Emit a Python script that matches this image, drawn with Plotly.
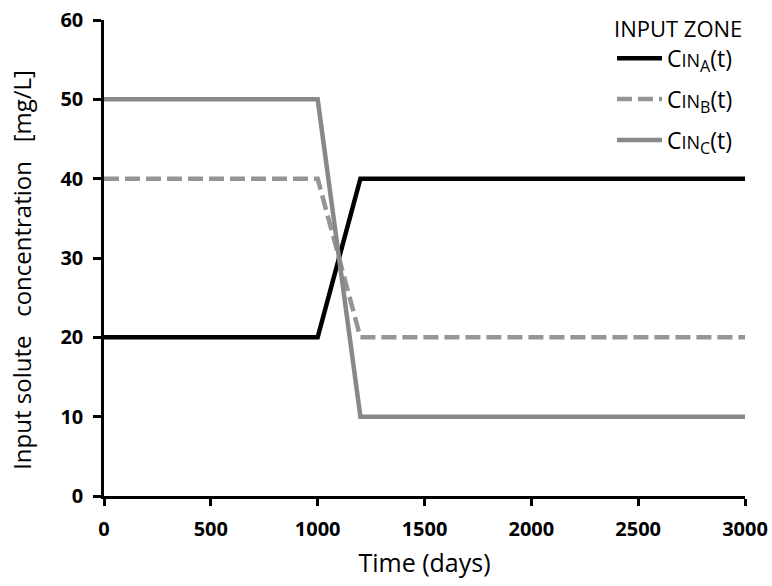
import plotly.graph_objects as go

time_days = [0, 1000, 1200, 3000]
cin_a = [20, 20, 40, 40]
cin_b = [40, 40, 20, 20]
cin_c = [50, 50, 10, 10]

x_ticks = [0, 500, 1000, 1500, 2000, 2500, 3000]
y_ticks = [0, 10, 20, 30, 40, 50, 60]

FONT = "Open Sans"
SUB = "<span style='font-size:18px'>IN</span>"

fig = go.Figure()
fig.add_trace(go.Scatter(x=time_days, y=cin_a, mode="lines", legendgroup="a",
                         line=dict(color="#000000", width=4.5),
                         name="C" + SUB + "<sub>A</sub>(t)"))
fig.add_trace(go.Scatter(x=time_days, y=cin_b, mode="lines", legendgroup="b",
                         line=dict(color="#959595", width=4.5, dash="15px,6px"),
                         name="C" + SUB + "<sub>B</sub>(t)"))
fig.add_trace(go.Scatter(x=time_days, y=cin_c, mode="lines", legendgroup="c",
                         line=dict(color="#888888", width=4.5),
                         name="C" + SUB + "<sub>C</sub>(t)"))

fig.update_layout(
    width=772, height=586,
    margin=dict(l=104, r=27, t=20, b=90, autoexpand=False),
    paper_bgcolor="white", plot_bgcolor="white",
    font=dict(family=FONT, color="#000000"),
    showlegend=True,
    legend=dict(x=1.0, xanchor="right", y=1.025, yanchor="top",
                title=dict(text="INPUT ZONE", font=dict(size=22, family=FONT), side="top"),
                font=dict(size=23, family=FONT), bgcolor="rgba(0,0,0,0)",
                tracegroupgap=8, itemwidth=45),
    xaxis=dict(range=[0, 3000], tickvals=x_ticks, ticktext=[str(v) for v in x_ticks],
               showgrid=False, zeroline=False, showline=True, linecolor="#000000", linewidth=2.5,
               ticks="outside", ticklen=7, tickwidth=2.5, tickcolor="#000000",
               ticklabelstandoff=6,
               tickfont=dict(size=20, family=FONT, weight="bold"),
               title=dict(text="Time (days)", font=dict(size=25, family=FONT), standoff=14)),
    yaxis=dict(range=[0, 60], tickvals=y_ticks, ticktext=[str(v) for v in y_ticks],
               showgrid=False, zeroline=False, showline=True, linecolor="#000000", linewidth=2.5,
               ticks="outside", ticklen=8, tickwidth=2.5, tickcolor="#000000",
               ticklabelstandoff=6,
               tickfont=dict(size=20, family=FONT, weight="bold")),
    annotations=[dict(text="Input solute\u00a0\u00a0 concentration\u00a0\u00a0 [mg/L]",
                      xref="paper", yref="paper", x=-0.128, y=0.475,
                      xanchor="center", yanchor="middle", textangle=-90, showarrow=False,
                      font=dict(size=24, family=FONT, color="#000000"))],
)

fig.write_html("out.html")
